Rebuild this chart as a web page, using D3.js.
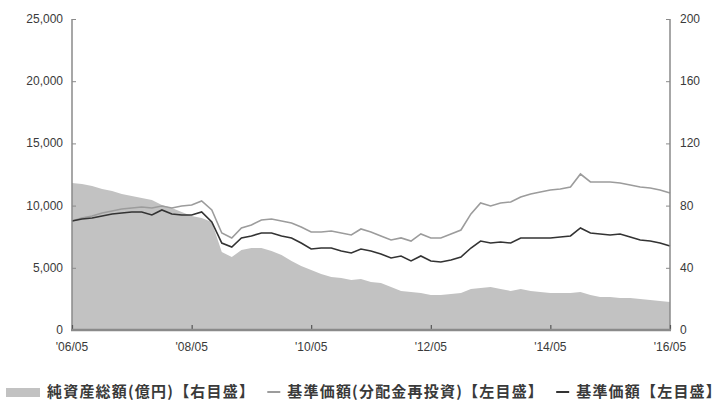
<script src="https://cdn.jsdelivr.net/npm/d3@7"></script>
<body style="margin: 0; background: white;">
<svg id="vis"></svg>
</body>
<script>

  /***** DATA *****/

  // Bimonthly dates, '06/05 to '16/05
  var dates = d3.range(0, 61).map(function(i) {
    return new Date(2006, 4 + i * 2, 1)
  })

  // 基準価額 (yen)
  var navValues = [
    8760, 8920, 9000, 9160, 9330, 9410, 9490, 9490, 9250, 9650,
    9330, 9250, 9250, 9490, 8680, 6990, 6670, 7400, 7560, 7800,
    7800, 7560, 7400, 6990, 6510, 6590, 6590, 6350, 6190, 6510,
    6350, 6110, 5790, 5950, 5550, 5950, 5550, 5470, 5630, 5870,
    6590, 7150, 6990, 7070, 6990, 7400, 7400, 7400, 7400, 7480,
    7560, 8200, 7800, 7720, 7640, 7720, 7480, 7240, 7150, 6990,
    6750
  ]

  // 基準価額(分配金再投資) (yen)
  var reinvValues = [
    8760, 9000, 9160, 9410, 9570, 9730, 9810, 9890, 9810, 9970,
    9810, 9970, 10050, 10370, 9650, 7800, 7400, 8200, 8440, 8840,
    8920, 8760, 8600, 8280, 7880, 7880, 7960, 7800, 7640, 8120,
    7880, 7560, 7240, 7400, 7150, 7720, 7400, 7400, 7720, 8040,
    9330, 10210, 9970, 10210, 10290, 10690, 10930, 11090, 11250, 11340,
    11500, 12540, 11900, 11900, 11900, 11820, 11660, 11500, 11420, 11250,
    11010
  ]

  // 純資産総額 (億円)
  var assetValues = [
    94.5, 93.9, 92.6, 90.7, 89.4, 87.5, 86.2, 84.9, 83.6, 80.4,
    78.5, 75.9, 73.3, 72.0, 69.5, 50.2, 46.9, 51.4, 52.7, 52.7,
    50.8, 48.2, 44.4, 41.2, 38.6, 36.0, 34.1, 33.4, 32.2, 32.8,
    30.9, 30.2, 27.7, 25.1, 24.4, 23.8, 22.5, 22.5, 23.2, 23.8,
    26.4, 27.0, 27.7, 26.4, 25.1, 26.4, 25.1, 24.4, 23.8, 23.8,
    23.8, 24.4, 22.5, 21.2, 21.2, 20.6, 20.6, 19.9, 19.3, 18.6,
    18.0
  ]

  var leftTicks = [0, 5000, 10000, 15000, 20000, 25000]
  var rightTicks = [0, 40, 80, 120, 160, 200]
  var xTicks = [2006, 2008, 2010, 2012, 2014, 2016].map(function(y) { return new Date(y, 4, 1) })

  var legendLabels = ['純資産総額(億円)【右目盛】', '基準価額(分配金再投資)【左目盛】', '基準価額【左目盛】']


  /***** SETUP *****/

  var width = 727
  var height = 410
  var margin = {left: 72, right: 57, top: 19, bottom: 80}

  var svg = d3.select('#vis')
  .attr('width', width)
  .attr('height', height)
  .style('display', 'block')
  .style('font-family', 'Liberation Sans, Arial, sans-serif')

  var x = d3.scaleTime()
  .domain([dates[0], dates[dates.length - 1]])
  .range([margin.left, width - margin.right])

  var yLeft = d3.scaleLinear()
  .domain([0, 25000])
  .range([height - margin.bottom, margin.top])

  var yRight = d3.scaleLinear()
  .domain([0, 200])
  .range([height - margin.bottom, margin.top])

  var axisColor = '#8a8a8a'
  var textColor = '#3a3a3a'


  /***** MARKS *****/

  // Net assets area (right scale)
  var area = d3.area()
  .x(function(d, i) { return x(dates[i]) })
  .y0(yRight(0))
  .y1(function(d) { return yRight(d) })

  svg.append('path')
  .attr('d', area(assetValues))
  .attr('fill', '#c2c2c2')

  var line = d3.line()
  .x(function(d, i) { return x(dates[i]) })
  .y(function(d) { return yLeft(d) })

  svg.append('path')
  .attr('d', line(reinvValues))
  .attr('fill', 'none')
  .attr('stroke', '#9c9c9c')
  .attr('stroke-width', 1.6)

  svg.append('path')
  .attr('d', line(navValues))
  .attr('fill', 'none')
  .attr('stroke', '#333333')
  .attr('stroke-width', 1.6)


  /***** AXES *****/

  // Left axis, ticks pointing inward
  var leftAxis = svg.append('g')
  .attr('transform', 'translate(' + margin.left + ',0)')
  .call(d3.axisRight(yLeft).tickValues(leftTicks).tickSize(4).tickFormat(''))
  leftAxis.select('.domain').remove()
  leftAxis.selectAll('line').attr('stroke', axisColor)

  svg.append('line')
  .attr('x1', margin.left).attr('x2', margin.left)
  .attr('y1', margin.top).attr('y2', yLeft(0))
  .attr('stroke', axisColor).attr('stroke-width', 1.5)

  svg.selectAll('.lLabel')
  .data(leftTicks)
  .enter()
  .append('text')
  .attr('x', margin.left - 9)
  .attr('y', function(d) { return yLeft(d) + 4 })
  .attr('text-anchor', 'end')
  .style('font-size', '12px')
  .style('fill', textColor)
  .text(function(d) { return d3.format(',')(d) })

  // Right axis
  var rightAxis = svg.append('g')
  .attr('transform', 'translate(' + (width - margin.right) + ',0)')
  .call(d3.axisLeft(yRight).tickValues(rightTicks).tickSize(4).tickFormat(''))
  rightAxis.select('.domain').remove()
  rightAxis.selectAll('line').attr('stroke', axisColor)

  svg.append('line')
  .attr('x1', width - margin.right).attr('x2', width - margin.right)
  .attr('y1', margin.top).attr('y2', yRight(0))
  .attr('stroke', axisColor).attr('stroke-width', 1.5)

  svg.selectAll('.rLabel')
  .data(rightTicks)
  .enter()
  .append('text')
  .attr('x', width - margin.right + 10)
  .attr('y', function(d) { return yRight(d) + 4 })
  .attr('text-anchor', 'start')
  .style('font-size', '12px')
  .style('fill', textColor)
  .text(function(d) { return d })

  // Bottom axis
  var bottomAxis = svg.append('g')
  .attr('transform', 'translate(0,' + yLeft(0) + ')')
  .call(d3.axisTop(x).tickValues(xTicks).tickSize(5).tickFormat(''))
  bottomAxis.select('.domain').remove()
  bottomAxis.selectAll('line').attr('stroke', '#555').attr('stroke-width', 1.2)

  svg.append('line')
  .attr('x1', margin.left - 1).attr('x2', width - margin.right + 1)
  .attr('y1', yLeft(0)).attr('y2', yLeft(0))
  .attr('stroke', axisColor).attr('stroke-width', 2.5)

  svg.selectAll('.xLabel')
  .data(xTicks)
  .enter()
  .append('text')
  .attr('x', function(d) { return x(d) })
  .attr('y', yLeft(0) + 21)
  .attr('text-anchor', 'middle')
  .style('font-size', '12px')
  .style('fill', textColor)
  .text(function(d) { return "'" + d3.timeFormat('%y/%m')(d) })


  /***** LEGEND *****/

  var legendY = 392
  var legendRight = 722
  var legendColors = ['#c2c2c2', '#9c9c9c', '#333333']

  // Add the labels first so their widths can be measured
  var legendTexts = legendLabels.map(function(label) {
    return svg.append('text')
    .attr('y', legendY + 5)
    .style('font-size', '15px')
    .style('letter-spacing', '1.2px')
    .style('font-family', 'Noto Sans CJK JP')
    .style('font-weight', 700)
    .style('fill', textColor)
    .text(label)
  })
  var widths = legendTexts.map(function(t) { return t.node().getComputedTextLength() })

  var rectX = 6, rectW = 34, textGap = 7, dashW = 13
  var used = rectX + rectW + textGap + d3.sum(widths) + 2 * (dashW + textGap)
  var sepGap = Math.max(10, (legendRight - used) / 2)

  svg.append('rect')
  .attr('x', rectX).attr('y', legendY - 4)
  .attr('width', rectW).attr('height', 9)
  .attr('fill', legendColors[0])

  var cursor = rectX + rectW + textGap
  legendTexts[0].attr('x', cursor)
  cursor += widths[0]

  for (var i = 1; i < 3; i++) {
    cursor += sepGap
    svg.append('line')
    .attr('x1', cursor).attr('x2', cursor + dashW)
    .attr('y1', legendY).attr('y2', legendY)
    .attr('stroke', legendColors[i]).attr('stroke-width', 2)
    cursor += dashW + textGap
    legendTexts[i].attr('x', cursor)
    cursor += widths[i]
  }

</script>
